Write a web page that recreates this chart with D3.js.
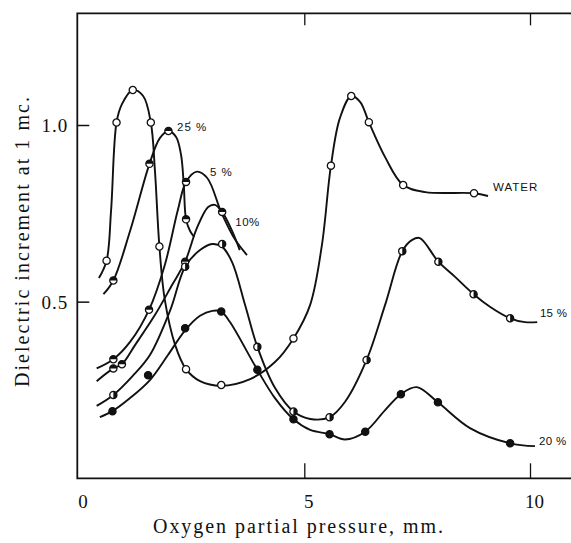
<!DOCTYPE html>
<html>
<head>
<meta charset="utf-8">
<script src="https://cdn.jsdelivr.net/npm/d3@7"></script>
<style>
  body { margin: 0; background: #fff; }
  svg { display: block; }
</style>
</head>
<body>
<div id="chart"></div>
<script>
// axis ticks
var xTicks = [0, 5, 10];
var yTicks = [0.5, 1.0];

var waterPts = [[0.62,0.616],[0.84,1.007],[1.20,1.099],[1.60,1.007],[1.79,0.656],[2.38,0.309],[3.16,0.264],[4.76,0.396],[5.59,0.885],[6.04,1.082],[6.43,1.008],[7.19,0.830],[8.76,0.807]];
var waterCurve = [[0.45,0.567],[0.62,0.616],[0.72,0.759],[0.84,1.007],[0.96,1.059],[1.20,1.099],[1.43,1.082],[1.60,1.007],[1.69,0.873],[1.79,0.656],[1.91,0.505],[2.14,0.377],[2.38,0.309],[2.69,0.275],[3.16,0.262],[3.80,0.281],[4.35,0.329],[4.76,0.396],[5.13,0.491],[5.39,0.660],[5.59,0.885],[5.79,1.020],[6.04,1.082],[6.24,1.065],[6.43,1.008],[6.79,0.909],[7.19,0.830],[7.68,0.810],[8.76,0.807],[9.07,0.799]];

var pct25Pts = [[0.77,0.560],[1.57,0.890],[1.99,0.983],[2.38,0.733]];
var pct25Curve = [[0.55,0.521],[0.77,0.560],[1.14,0.700],[1.57,0.890],[1.80,0.963],[1.99,0.983],[2.16,0.966],[2.27,0.915],[2.33,0.830],[2.38,0.733],[2.47,0.700],[2.56,0.683]];

var pct5Pts = [[0.77,0.337],[1.56,0.477],[2.38,0.839]];
var pct5Curve = [[0.40,0.311],[0.77,0.337],[1.14,0.386],[1.56,0.477],[1.91,0.604],[2.20,0.760],[2.38,0.839],[2.62,0.868],[2.85,0.850],[3.17,0.750],[3.47,0.675],[3.73,0.632]];

var pct10Pts = [[0.77,0.311],[0.96,0.323],[2.36,0.613],[3.18,0.754]];
var pct10Curve = [[0.40,0.275],[0.77,0.311],[0.96,0.323],[1.25,0.377],[1.69,0.462],[2.07,0.547],[2.36,0.613],[2.62,0.708],[2.87,0.768],[3.02,0.774],[3.18,0.754],[3.39,0.703],[3.57,0.646]];

var pct15Pts = [[0.77,0.236],[2.36,0.599],[3.18,0.663],[3.96,0.372],[4.76,0.189],[5.56,0.173],[6.38,0.335],[7.17,0.643],[7.97,0.613],[8.75,0.521],[9.56,0.453]];
var pct15Curve = [[0.40,0.205],[0.77,0.236],[1.20,0.290],[1.58,0.349],[2.03,0.476],[2.36,0.599],[2.69,0.646],[2.96,0.663],[3.18,0.655],[3.40,0.612],[3.69,0.490],[3.96,0.372],[4.35,0.256],[4.76,0.189],[5.13,0.168],[5.56,0.173],[5.90,0.216],[6.38,0.335],[6.79,0.491],[7.17,0.643],[7.39,0.675],[7.56,0.680],[7.97,0.613],[8.34,0.570],[8.75,0.521],[9.12,0.485],[9.56,0.453],[9.89,0.442],[10.16,0.442]];

var pct20Pts = [[0.75,0.190],[1.54,0.292],[2.36,0.425],[3.16,0.472],[3.96,0.307],[4.76,0.167],[5.56,0.125],[6.35,0.132],[7.14,0.238],[7.96,0.215],[9.56,0.099]];
var pct20Curve = [[0.47,0.173],[0.75,0.190],[1.14,0.227],[1.58,0.278],[1.98,0.349],[2.36,0.419],[2.69,0.460],[2.96,0.474],[3.16,0.472],[3.35,0.443],[3.96,0.307],[4.35,0.227],[4.76,0.167],[5.13,0.137],[5.56,0.125],[5.90,0.110],[6.35,0.132],[6.79,0.193],[7.14,0.238],[7.49,0.258],[7.96,0.215],[8.67,0.142],[9.56,0.099],[10.11,0.091]];

var width = 571, height = 543;
var serif = "'Liberation Serif', 'Times New Roman', serif";
var sans = "'Liberation Sans', Arial, sans-serif";

var svg = d3.select("#chart").append("svg")
    .attr("width", width)
    .attr("height", height);

svg.append("rect").attr("width", width).attr("height", height).attr("fill", "#fff");

var x = d3.scaleLinear().domain([0, 10]).range([78.6, 530]);
var y = d3.scaleLinear().domain([0, 1]).range([478.3, 125]);

var yTop = y(1.316), yBot = y(0), xLeft = x(0) - 1.3;

// frame (right side is cut off in the original)
svg.append("path")
    .attr("d", "M" + width + "," + yTop + "H" + xLeft + "V" + yBot + "H" + width)
    .attr("fill", "none")
    .attr("stroke", "#111")
    .attr("stroke-width", 1.8);

// bottom axis
var gx = svg.append("g")
    .attr("transform", "translate(0," + yBot + ")")
    .call(d3.axisBottom(x).tickValues(xTicks).tickSize(-15).tickFormat(d3.format("d")));
gx.select(".domain").remove();
gx.selectAll(".tick line").attr("stroke", "#111").attr("stroke-width", 1.3)
    .attr("display", function(d) { return d == 0 ? "none" : null; });
gx.selectAll(".tick text")
    .attr("x", 4).attr("y", 30).attr("dy", null)
    .attr("fill", "#111")
    .style("font-family", serif).style("font-size", "19px");

// top ticks
var gt = svg.append("g")
    .attr("transform", "translate(0," + yTop + ")")
    .call(d3.axisTop(x).tickValues([5, 10]).tickSize(-12).tickFormat(""));
gt.select(".domain").remove();
gt.selectAll(".tick line").attr("stroke", "#111").attr("stroke-width", 1.3);

// left axis
var gy = svg.append("g")
    .attr("transform", "translate(" + xLeft + ",0)")
    .call(d3.axisLeft(y).tickValues(yTicks).tickSize(-12).tickFormat(d3.format(".1f")));
gy.select(".domain").remove();
gy.selectAll(".tick line").attr("stroke", "#111").attr("stroke-width", 1.5);
gy.selectAll(".tick text")
    .attr("x", -9).attr("dy", "0.36em")
    .attr("fill", "#111")
    .style("font-family", serif).style("font-size", "19px")
    .style("letter-spacing", "1px");

// axis titles
svg.append("text")
    .attr("x", 153).attr("y", 533)
    .attr("textLength", 290).attr("lengthAdjust", "spacing")
    .style("font-family", serif).style("font-size", "20px").attr("fill", "#111")
    .text("Oxygen partial pressure, mm.");

svg.append("text")
    .attr("transform", "translate(29,387) rotate(-90)")
    .attr("textLength", 290).attr("lengthAdjust", "spacing")
    .style("font-family", serif).style("font-size", "20px").attr("fill", "#111")
    .text("Dielectric increment at 1 mc.");

// curves
var line = d3.line()
    .x(function(d) { return x(d[0]); })
    .y(function(d) { return y(d[1]); })
    .curve(d3.curveCatmullRom.alpha(0.5));

var series = [
  {curve: waterCurve, pts: waterPts, mark: "open"},
  {curve: pct25Curve, pts: pct25Pts, mark: "halfTop"},
  {curve: pct5Curve, pts: pct5Pts, mark: "halfTop"},
  {curve: pct10Curve, pts: pct10Pts, mark: "halfTop"},
  {curve: pct15Curve, pts: pct15Pts, mark: "halfRight"},
  {curve: pct20Curve, pts: pct20Pts, mark: "filled"}
];

series.forEach(function(s) {
  svg.append("path")
      .datum(s.curve)
      .attr("fill", "none")
      .attr("stroke", "#111")
      .attr("stroke-width", 1.9)
      .attr("d", line);
});

// markers on top
var r = 3.6;
series.forEach(function(s) {
  var nodes = svg.selectAll(null)
      .data(s.pts)
    .enter().append("g")
      .attr("transform", function(d) { return "translate(" + x(d[0]) + "," + y(d[1]) + ")"; });

  nodes.append("circle")
      .attr("r", r)
      .attr("fill", s.mark == "filled" ? "#111" : "#fff")
      .attr("stroke", "#111")
      .attr("stroke-width", 1.3);

  if (s.mark == "halfTop") {
    nodes.append("path")
        .attr("d", "M" + (-r) + ",0A" + r + "," + r + " 0 0 1 " + r + ",0Z")
        .attr("fill", "#111");
  } else if (s.mark == "halfRight") {
    nodes.append("path")
        .attr("d", "M0," + (-r) + "A" + r + "," + r + " 0 0 1 0," + r + "Z")
        .attr("fill", "#111");
  }
});

// curve labels
var tags = [
  {t: "WATER", x: 9.18, y: 0.825, ls: 1},
  {t: "15 %", x: 10.22, y: 0.469, ls: 0.3},
  {t: "20 %", x: 10.20, y: 0.106, ls: 0.3},
  {t: "10%", x: 3.47, y: 0.726, ls: 0.5},
  {t: "5 %", x: 2.91, y: 0.868, ls: 1},
  {t: "25\u0301 %", x: 2.18, y: 0.995, ls: 1}
];

svg.selectAll(".tag")
    .data(tags)
  .enter().append("text")
    .attr("class", "tag")
    .attr("x", function(d) { return x(d.x); })
    .attr("y", function(d) { return y(d.y); })
    .attr("dy", "0.36em")
    .attr("fill", "#111")
    .style("font-family", sans)
    .style("font-size", "11.5px")
    .style("letter-spacing", function(d) { return d.ls + "px"; })
    .text(function(d) { return d.t; });
</script>
</body>
</html>
